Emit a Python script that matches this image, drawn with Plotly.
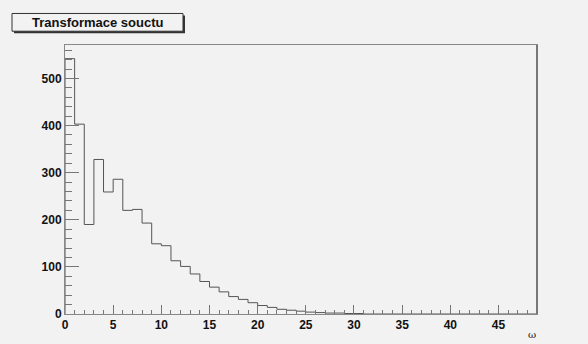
import plotly.graph_objects as go

bin_edges = list(range(0, 50))
counts = [542, 403, 190, 328, 259, 286, 220, 222, 193, 149,
          145, 113, 101, 85, 69, 57, 47, 37, 31, 24,
          18, 14, 10, 8, 6, 4, 3, 2, 2, 1,
          1, 0, 0, 0, 0, 0, 0, 0, 0, 0,
          0, 0, 0, 0, 0, 0, 0, 0, 0]
x_ticks = [0, 5, 10, 15, 20, 25, 30, 35, 40, 45]
y_ticks = [0, 100, 200, 300, 400, 500]
title_text = "Transformace souctu"
x_label = "ω"

W, H = 588, 344
L, R, T, B = 65, 51, 45, 26
pw, ph = W - L - R, H - T - B

def px(x):
    return (x - L) / pw

def py(y):
    return 1 - (y - T) / ph

xs = [0] + bin_edges
ys = [0] + counts + [0]

fig = go.Figure()
fig.add_trace(go.Scatter(
    x=xs, y=ys, mode="lines", line=dict(shape="hv", color="#555555", width=1),
    hoverinfo="skip", showlegend=False))

bg = "#f2f2f2"
fig.update_layout(
    width=W, height=H, margin=dict(l=L, r=R, t=T, b=B),
    paper_bgcolor=bg, plot_bgcolor=bg,
    font=dict(family="Liberation Sans, Arial, sans-serif", color="#111111"),
    xaxis=dict(range=[0, 49], tickvals=x_ticks, ticks="inside", ticklen=9,
               tickcolor="#777777", showgrid=False, zeroline=False,
               showline=True, linecolor="#888888", linewidth=1, mirror=True,
               tickfont=dict(size=12, weight="bold", color="#111111"),
               minor=dict(ticks="inside", ticklen=4, dtick=1, tickcolor="#777777", showgrid=False)),
    yaxis=dict(range=[0, 571], tickvals=y_ticks, ticks="inside", ticklen=14,
               tickcolor="#777777", showgrid=False, zeroline=False,
               showline=True, linecolor="#888888", linewidth=1, mirror=True,
               tickfont=dict(size=12, weight="bold", color="#111111"),
               minor=dict(ticks="inside", ticklen=7, dtick=20, tickcolor="#777777", showgrid=False)),
)

# right frame edge darker
fig.add_shape(type="line", xref="paper", yref="paper", x0=1, x1=1, y0=0, y1=1,
              line=dict(color="#777777", width=2))

# title box with shadow
fig.add_shape(type="rect", xref="paper", yref="paper",
              x0=px(14), x1=px(185), y0=py(33), y1=py(15),
              line=dict(width=0), fillcolor="#333333")
fig.add_shape(type="rect", xref="paper", yref="paper",
              x0=px(12), x1=px(183), y0=py(31), y1=py(13),
              line=dict(color="#333333", width=1), fillcolor=bg)
fig.add_annotation(text="<b>" + title_text + "</b>", xref="paper", yref="paper",
                   x=px(97.5), y=py(22), showarrow=False,
                   font=dict(size=13, color="#111111"), xanchor="center", yanchor="middle")

fig.add_annotation(text=x_label, xref="paper", yref="paper",
                   x=px(532), y=py(339), showarrow=False,
                   font=dict(size=10, family="DejaVu Serif, serif", color="#111111"),
                   xanchor="center", yanchor="middle")

fig.write_html("out.html")
